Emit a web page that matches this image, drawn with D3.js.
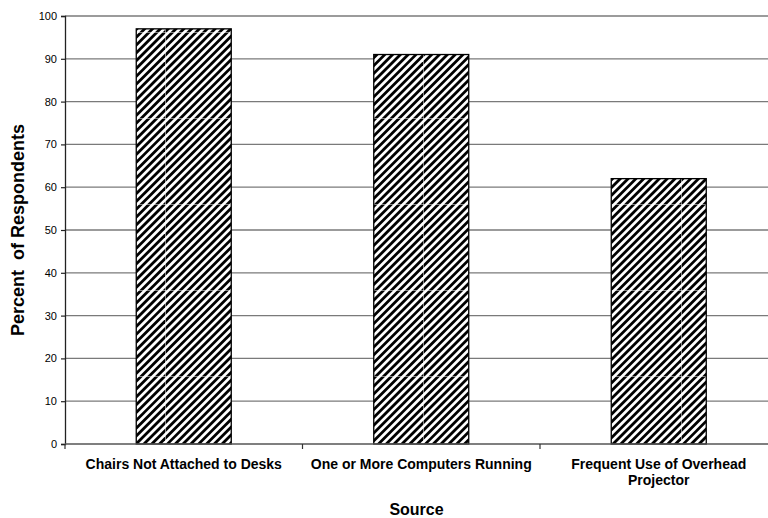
<!DOCTYPE html>
<html>
<head>
<meta charset="utf-8">
<script src="https://cdn.jsdelivr.net/npm/d3@7"></script>
<style>
  html, body { margin: 0; padding: 0; background: #fff; }
  svg { display: block; font-family: "Liberation Sans", Arial, sans-serif; }
</style>
</head>
<body>
<svg id="chart" width="768" height="518"></svg>
<script>
// ---- data ----
const categories = [
  ["Chairs Not Attached to Desks"],
  ["One or More Computers Running"],
  ["Frequent Use of Overhead", "Projector"]
];
const values = [97, 91, 62];
const yTicks = [0, 10, 20, 30, 40, 50, 60, 70, 80, 90, 100];
const yTitle = "Percent\u00a0\u00a0of Respondents";
const xTitle = "Source";

// ---- layout ----
const W = 768, H = 518;
const margin = { left: 65, top: 16, bottom: 74 };
const plotBottom = H - margin.bottom;   // 444
const plotRight = 777.5;                 // extends past page edge

const svg = d3.select("#chart");

const x = d3.scaleBand()
  .domain(d3.range(categories.length))
  .range([margin.left, plotRight])
  .paddingInner(0.6)
  .paddingOuter(0.3);

const y = d3.scaleLinear().domain([0, 100]).range([plotBottom, margin.top]);

// hatch pattern
const tile = 86, nStripes = 11, pitch = tile / nStripes;
const defs = svg.append("defs");
const pat = defs.append("pattern")
  .attr("id", "hatch")
  .attr("patternUnits", "userSpaceOnUse")
  .attr("x", 79).attr("y", 32)
  .attr("width", tile).attr("height", tile);
pat.append("rect").attr("width", tile).attr("height", tile).attr("fill", "#fff");
for (let k = -1; k <= 2 * nStripes + 1; k++) {
  const c = k * pitch;
  pat.append("line")
    .attr("x1", c + 4).attr("y1", -4)
    .attr("x2", c - tile - 4).attr("y2", tile + 4)
    .attr("stroke", "#000")
    .attr("stroke-width", 2.8);
}
// faint seams at tile edges
pat.append("line").attr("x1", 0.4).attr("y1", 0).attr("x2", 0.4).attr("y2", tile)
  .attr("stroke", "#fff").attr("stroke-width", 0.8).attr("opacity", 0.7);
pat.append("line").attr("x1", 0).attr("y1", 0.4).attr("x2", tile).attr("y2", 0.4)
  .attr("stroke", "#fff").attr("stroke-width", 0.8).attr("opacity", 0.7);

// gridlines
svg.append("g")
  .selectAll("line")
  .data(yTicks.filter(d => d > 0))
  .join("line")
  .attr("x1", margin.left).attr("x2", W)
  .attr("y1", d => y(d)).attr("y2", d => y(d))
  .attr("stroke", "#7a7a7a")
  .attr("stroke-width", 1.3);

// bars
svg.append("g")
  .selectAll("rect")
  .data(values)
  .join("rect")
  .attr("x", (d, i) => x(i))
  .attr("y", d => y(d))
  .attr("width", x.bandwidth())
  .attr("height", d => y(0) - y(d))
  .attr("fill", "url(#hatch)")
  .attr("stroke", "#000")
  .attr("stroke-width", 1.3);

// y axis
const yAxis = svg.append("g")
  .attr("transform", `translate(${margin.left},0)`)
  .call(d3.axisLeft(y).tickValues(yTicks).tickSize(4).tickPadding(4));
yAxis.select(".domain").attr("stroke", "#222").attr("stroke-width", 1.3);
yAxis.selectAll(".tick line").attr("stroke", "#222").attr("stroke-width", 1.2);
yAxis.selectAll(".tick text")
  .attr("font-size", 11)
  .attr("font-family", "Liberation Sans, Arial, sans-serif")
  .attr("fill", "#000");

// x axis baseline with ticks at category boundaries
const step = x.step();
const boundaries = d3.range(categories.length + 1).map(i => margin.left + i * step);
const xg = svg.append("g");
xg.append("line")
  .attr("x1", margin.left).attr("x2", W)
  .attr("y1", y(0)).attr("y2", y(0))
  .attr("stroke", "#555").attr("stroke-width", 1.6);
xg.selectAll("line.tk")
  .data(boundaries)
  .join("line")
  .attr("class", "tk")
  .attr("x1", d => d).attr("x2", d => d)
  .attr("y1", y(0)).attr("y2", y(0) + 5)
  .attr("stroke", "#333").attr("stroke-width", 1.2);

// category labels
const lab = svg.append("g")
  .selectAll("text")
  .data(categories)
  .join("text")
  .attr("x", (d, i) => x(i) + x.bandwidth() / 2)
  .attr("y", 469)
  .attr("text-anchor", "middle")
  .attr("font-size", 14)
  .attr("font-weight", "bold")
  .attr("fill", "#000");
lab.selectAll("tspan")
  .data(d => d)
  .join("tspan")
  .attr("x", function () { return d3.select(this.parentNode).attr("x"); })
  .attr("dy", (d, i) => i === 0 ? 0 : 16)
  .text(d => d);

// axis titles
svg.append("text")
  .attr("x", (margin.left + W) / 2)
  .attr("y", 515)
  .attr("text-anchor", "middle")
  .attr("font-size", 16)
  .attr("font-weight", "bold")
  .text(xTitle);

svg.append("text")
  .attr("transform", `translate(24,${(margin.top + plotBottom) / 2}) rotate(-90)`)
  .attr("text-anchor", "middle")
  .attr("font-size", 18)
  .attr("font-weight", "bold")
  .text(yTitle);
</script>
</body>
</html>
